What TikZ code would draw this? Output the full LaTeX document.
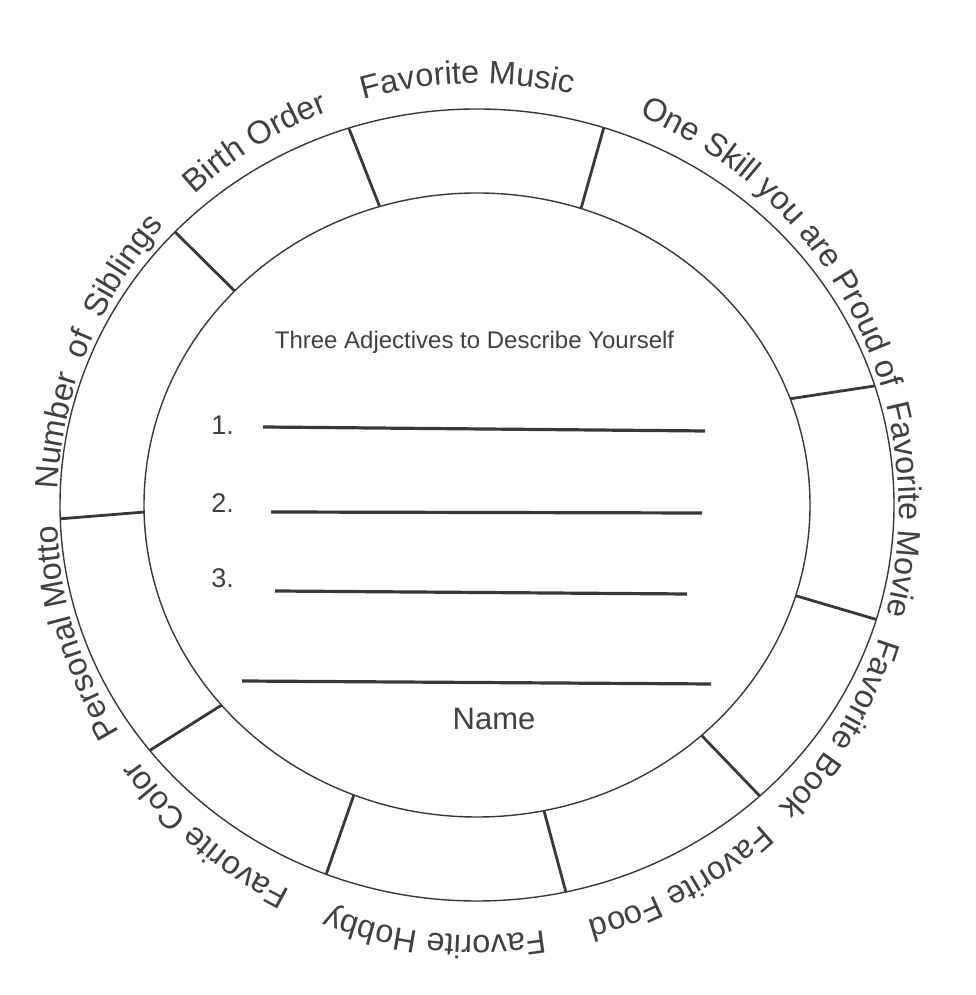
\documentclass[tikz,border=0pt]{standalone}
\usepackage{fontspec}
\setmainfont{Liberation Sans}
\newfontfamily\widelabelfont[WordSpace=1.9]{Liberation Sans}
\usepackage{tikz}
\usetikzlibrary{calc, decorations.text}
\definecolor{linegray}{gray}{0.22}
\definecolor{labelgray}{gray}{0.25}
\newcommand{\labelfont}{\fontsize{16.2}{19}\selectfont\color{labelgray}}
\tikzstyle{ring} = [draw=linegray, line width=0.7pt]
\tikzstyle{spoke} = [draw=linegray, line width=1.4pt]
\tikzstyle{answer} = [draw=linegray, line width=1.6pt]
\tikzstyle{prompt} = [text=labelgray, inner sep=0pt, anchor=base]

\begin{document}
\begin{tikzpicture}[x=0.5pt, y=0.5pt]
    \useasboundingbox (0,0) rectangle (975,995);
    \coordinate (C) at (477,490);
    \coordinate (T) at (478,485.5);
    % ring and its cells
    \draw[ring] (C) ellipse [x radius=417, y radius=396];
    \draw[ring] (C) ellipse [x radius=333, y radius=312];
    \foreach \a/\b in {182/181.3, 136.4/136.7, 107.9/107, 72.3/71.8, 17.5/19.9, -16.8/-16.9, -47.3/-47.6, -77.7/-78.4, -111.2/-111.7, -141.7/-140.1}
        \draw[spoke] ($(C)+(\a:417 and 396)$) -- ($(C)+(\b:333 and 312)$);
    % labels round the ring
    \foreach \ang/\lbl in {91.4/Favorite Music, 42/One Skill you are Proud of, 0/Favorite Movie, -31/Favorite Book, -61.4/Favorite Food, -95.9/Favorite Hobby, -130.2/Favorite Color, -163.1/Personal Motto, 121.5/Birth Order}
        \path[decorate, decoration={text along path, text align=center, text/.expanded={|\noexpand\labelfont|\lbl}}]
            ($(T)+(\ang+35:421 and 426)$) arc[start angle=\ang+35, end angle=\ang-35, x radius=421, y radius=426];
    \path[decorate, decoration={text along path, text align=center, text={|\widelabelfont\labelfont|Number of Siblings}}]
        ($(T)+(192.7:421 and 426)$) arc[start angle=192.7, end angle=122.7, x radius=421, y radius=426];
    % inside
    \node[prompt, font=\fontsize{12}{15}\selectfont] (title) at (474.5,646) {Three Adjectives to Describe Yourself};
    \node[prompt, anchor=base west, font=\fontsize{13.5}{16}\selectfont] (num1) at (211,560) {1.};
    \node[prompt, anchor=base west, font=\fontsize{13.5}{16}\selectfont] (num2) at (211,482) {2.};
    \node[prompt, anchor=base west, font=\fontsize{13.5}{16}\selectfont] (num3) at (211,407) {3.};
    \draw[answer] (263,568) -- (705,564);
    \draw[answer] (271,483) -- (702,482);
    \draw[answer] (275,404) -- (687,401);
    \draw[answer] (242,314) -- (711,311);
    \node[prompt, font=\fontsize{15.5}{18}\selectfont] (name) at (494,265) {Name};
\end{tikzpicture}
\end{document}
